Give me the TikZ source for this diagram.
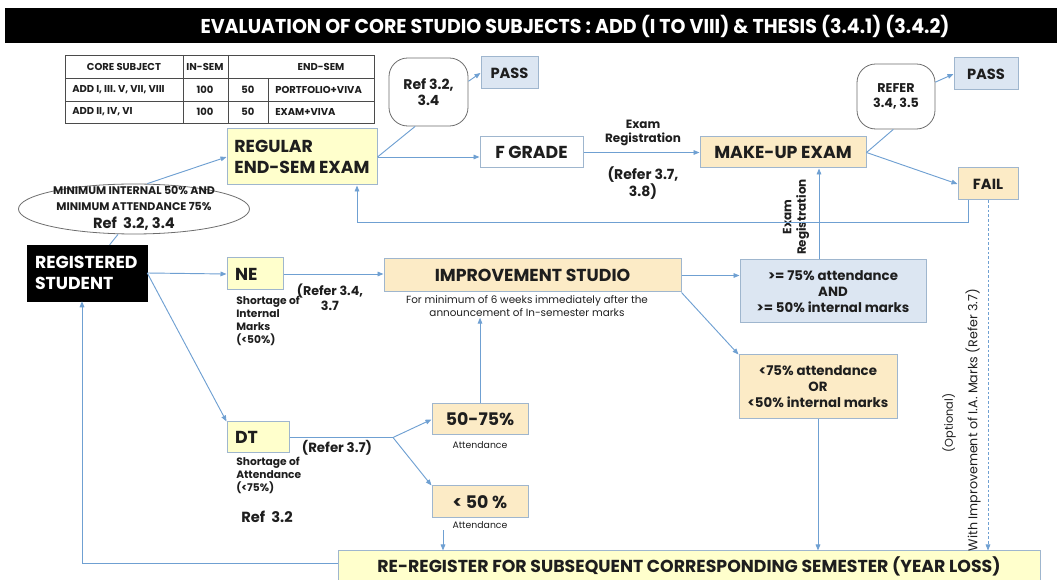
\documentclass[tikz,border=0pt]{standalone}
\usepackage{fontspec}
\setmainfont{Poppins}
\newfontfamily\titlefont[FakeStretch=0.95]{Poppins}
\usetikzlibrary{arrows.meta,shapes.geometric}
\definecolor{link}{HTML}{6FA0D2}
\definecolor{edge}{HTML}{9FB6CE}
\definecolor{lemon}{HTML}{FFFFCC}
\definecolor{peach}{HTML}{FCEBC6}
\definecolor{sky}{HTML}{DCE6F2}
\definecolor{ink}{HTML}{1E1E1E}

\newcommand{\fs}[1]{\fontsize{#1}{1.2\dimexpr#1pt\relax}\selectfont}

\begin{document}
\begin{tikzpicture}[
    x=0.75pt,y=-0.75pt,
    font=\bfseries,text=ink,
    box/.style={draw=edge,line width=0.75pt,inner sep=0pt,align=center},
    ybox/.style={box,fill=lemon},
    obox/.style={box,fill=peach},
    bbox/.style={box,fill=sky},
    lbox/.style={align=left,inner xsep=6pt},
    bubble/.style={draw=ink!65,line width=0.6pt,rounded corners=14pt,inner sep=0pt,align=center,fill=white},
    wire/.style={draw=link,line width=0.7pt},
    arr/.style={wire,-{Triangle[length=4.5pt,width=3.5pt]}},
    grid/.style={draw=ink!80,line width=0.5pt},
    cell/.style={font=\fs{7.5}\bfseries,inner sep=0pt},
    note/.style={align=left,inner sep=0pt}
  ]
  \useasboundingbox (0,0) rectangle (1057,580);

  % heading
  \fill[black] (5,8) rectangle (1057,43);
  \node[text=white,font=\titlefont\fs{15}\bfseries] (title) at (575,26)
    {EVALUATION OF CORE STUDIO SUBJECTS : ADD (I TO VIII) \& THESIS (3.4.1) (3.4.2)};

  % marks table
  \draw[grid] (65,55) rectangle (374,123);
  \draw[grid] (65,78) -- (374,78) (65,101) -- (374,101);
  \draw[grid] (183,55) -- (183,123) (228,55) -- (228,123) (268,78) -- (268,123);
  \node[cell] (c11) at (124,67) {CORE SUBJECT};
  \node[cell] (c12) at (205,67) {IN-SEM};
  \node[cell] (c13) at (321,67) {END-SEM};
  \node[cell,anchor=west] (c21) at (72,90) {ADD\ I, III. V, VII, VIII};
  \node[cell] (c22) at (205,90) {100};
  \node[cell] (c23) at (248,90) {50};
  \node[cell,anchor=west] (c24) at (275,90) {PORTFOLIO+VIVA};
  \node[cell,anchor=west] (c31) at (72,112) {ADD\ II, IV, VI};
  \node[cell] (c32) at (205,112) {100};
  \node[cell] (c33) at (248,112) {50};
  \node[cell,anchor=west] (c34) at (275,112) {EXAM+VIVA};

  % top row: regular exam and make-up
  \node[ybox,align=left,minimum width=112.5pt,minimum height=42pt,font=\fs{13}\bfseries] (reg) at (302,157) {REGULAR\\END-SEM EXAM};
  \node[bubble,minimum width=59.25pt,minimum height=51pt,font=\fs{10.5}\bfseries] (ref1) at (428.5,92) {Ref 3.2,\\3.4};
  \node[bbox,minimum width=42.75pt,minimum height=24pt,font=\fs{11}\bfseries] (pass1) at (509.5,73) {PASS};
  \node[box,fill=white,minimum width=77.25pt,minimum height=23.25pt,font=\fs{13}\bfseries] (fg) at (531.5,152.5) {F GRADE};
  \node[obox,minimum width=124.5pt,minimum height=23.25pt,font=\fs{13}\bfseries] (mk) at (783,152.5) {MAKE-UP EXAM};
  \node[bubble,minimum width=58.5pt,minimum height=48.75pt,font=\fs{9.5}\bfseries] (ref2) at (896,96.5) {REFER\\3.4, 3.5};
  \node[bbox,minimum width=48pt,minimum height=24pt,font=\fs{11}\bfseries] (pass2) at (986,74) {PASS};
  \node[obox,minimum width=45pt,minimum height=24pt,font=\fs{11}\bfseries] (fail) at (988,184) {FAIL};

  \node[font=\fs{9}\bfseries,align=center,inner sep=0pt] (er) at (643,133) {Exam\\Registration};
  \node[font=\fs{10.5}\bfseries,align=center,inner sep=0pt] (rf) at (643,183) {(Refer 3.7,\\3.8)};

  % entry condition
  \node[ellipse,draw=ink!65,line width=0.6pt,fill=white,minimum width=173.25pt,minimum height=37.5pt,inner sep=0pt] (elli) at (134,209) {};
  \node[align=center,inner sep=0pt,font=\fs{8.3}\bfseries] (ellitxt) at (134,208.5)
    {MINIMUM INTERNAL 50\% AND\\[1.5pt]MINIMUM ATTENDANCE 75\%\\[4pt]\fs{11}\bfseries Ref\ \ 3.2, 3.4};
  \node[fill=black,text=white,draw=black,inner sep=0pt,lbox,text width=78pt,minimum height=42pt,font=\fs{13}\bfseries] (st) at (87,273) {REGISTERED\\STUDENT};

  % shortage of internal marks
  \node[ybox,lbox,text width=30pt,minimum height=24pt,font=\fs{13}\bfseries] (ne) at (255,274) {NE};
  \node[note,anchor=north west,font=\fs{8}\bfseries] (nenote) at (236,296) {Shortage of\\Internal\\Marks\\(<50\%)};
  \node[align=center,inner sep=0pt,font=\fs{9.5}\bfseries] (nref) at (330,297) {(Refer 3.4,\\3.7};
  \node[obox,minimum width=222.75pt,minimum height=24.75pt,font=\fs{13}\bfseries] (imp) at (532.5,275.5) {IMPROVEMENT STUDIO};
  \node[align=center,inner sep=1pt,anchor=north,font=\fs{7.8}\mdseries] (inote) at (527,294)
    {For minimum of 6 weeks immediately after the\\announcement of In-semester marks};
  \node[bbox,minimum width=139.5pt,minimum height=47.25pt,font=\fs{10}\bfseries] (ge) at (833,291.5)
    {>= 75\% attendance\\AND\\>= 50\% internal marks};
  \node[obox,minimum width=118.5pt,minimum height=48pt,font=\fs{10}\bfseries] (lt) at (818,387)
    {<75\% attendance\\OR\\<50\% internal marks};

  % shortage of attendance
  \node[ybox,lbox,text width=34.5pt,minimum height=23.25pt,font=\fs{13}\bfseries] (dt) at (258,437.5) {DT};
  \node[note,anchor=north west,font=\fs{8}\bfseries] (dtnote) at (236,457) {Shortage of\\Attendance\\(<75\%)};
  \node[note,anchor=west,font=\fs{11}\bfseries] (dtref) at (241,517) {Ref\ \ 3.2};
  \node[inner sep=0pt,font=\fs{10}\bfseries] (dref) at (337,448) {(Refer 3.7)};
  \node[obox,minimum width=72pt,minimum height=23.25pt,font=\fs{13}\bfseries] (p75) at (480,419.5) {50-75\%};
  \node[inner sep=1pt,font=\fs{7}\mdseries] (a75) at (480,445) {Attendance};
  \node[obox,minimum width=72pt,minimum height=24pt,font=\fs{13}\bfseries] (p50) at (480,502) {< 50 \%};
  \node[inner sep=1pt,font=\fs{7}\mdseries] (a50) at (480,525) {Attendance};

  % year loss
  \node[ybox,minimum width=526.5pt,minimum height=22.5pt,font=\fs{13}\bfseries] (rr) at (689,566)
    {RE-REGISTER FOR SUBSEQUENT CORRESPONDING SEMESTER (YEAR LOSS)};

  % side labels
  \node[rotate=90,align=center,inner sep=0pt,font=\fs{9}\bfseries] (erv) at (796,217) {Exam\\Registration};
  \node[rotate=90,inner sep=0pt,font=\fs{8.5}\mdseries] (opt) at (949,423) {(Optional)};
  \node[rotate=90,inner sep=0pt,font=\fs{9.5}\mdseries] (imark) at (973,420) {With Improvement of I.A. Marks (Refer 3.7)};

  % connectors
  \draw[wire] ([xshift=17pt]st.north) -- ([xshift=-12pt]elli.south);
  \draw[arr] ([xshift=10pt]elli.north) -- (reg.west);
  \draw[wire] (reg.east) -- ([xshift=-10pt]ref1.south);
  \draw[arr] (ref1.15) -- (pass1.west);
  \draw[arr] (reg.east) -- (reg.east -| fg.west);
  \draw[arr] (fg.east) -- (mk.west);
  \draw[wire] (mk.east) -- ([xshift=-2pt]ref2.south);
  \draw[arr] (ref2.20) -- (pass2.west);
  \draw[arr] (mk.east) -- (fail.west);
  \coordinate (ret) at (357,222);
  \draw[arr] ([xshift=-15pt]fail.south) |- (ret) -- (ret |- reg.south);
  \draw[arr,line width=0.5pt,dash pattern=on 2pt off 1.5pt] (fail.south) -- (fail.south |- rr.north);

  \draw[arr] (st.east) -- (ne.west);
  \draw[arr] (st.east) -- (dt.north west);
  \draw[arr] (ne.east) -- (ne.east -| imp.west);
  \draw[arr] (imp.east) -- (imp.east -| ge.west);
  \draw[arr] (imp.south east) -- (lt.north west);
  \draw[arr] ([xshift=-10.5pt]ge.north) -- ([xshift=-10.5pt]ge.north |- mk.south);
  \draw[arr] (lt.south) -- (lt.south |- rr.north);

  \coordinate (j) at (393,437.5);
  \draw[wire] (dt.east) -- (j);
  \draw[arr] (j) -- (p75.west);
  \draw[arr] (j) -- (p50.north west);
  \draw[arr] (p75.north) -- (p75.north |- inote.south);
  \draw[arr] ([xshift=-27.75pt]a50.south) -- ([xshift=-27.75pt]a50.south |- rr.north);

  \coordinate (back) at (82,563);
  \draw[arr] (rr.west |- back) -- (back) -- (back |- st.south);
\end{tikzpicture}
\end{document}
